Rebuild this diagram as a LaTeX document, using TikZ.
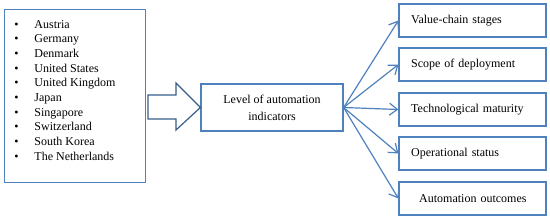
\documentclass[tikz,border=0pt]{standalone}
\usepackage{fontspec}
\setmainfont{Liberation Serif}
\usetikzlibrary{arrows.meta,positioning,calc}
\definecolor{boxblue}{RGB}{79,129,189}
\definecolor{darkblue}{RGB}{56,93,138}

\begin{document}
\begin{tikzpicture}[x=0.75pt,y=-0.75pt,every node/.style={font=\fontsize{9}{11}\selectfont}]
\useasboundingbox (0,0) rectangle (550,221);
\node[draw=boxblue, line width=0.9pt, minimum width=105.75pt, minimum height=129.75pt, inner sep=0pt, anchor=north west] (countries) at (4,9) {};
\node[anchor=north west, inner sep=0pt, align=left] (list) at (14,17.5) {%
  \begin{tabular}{@{}c@{\hspace{12pt}}l@{}}
  \textbullet & Austria\\
  \textbullet & Germany\\
  \textbullet & Denmark\\
  \textbullet & United States\\
  \textbullet & United Kingdom\\
  \textbullet & Japan\\
  \textbullet & Singapore\\
  \textbullet & Switzerland\\
  \textbullet & South Korea\\
  \textbullet & The Netherlands
  \end{tabular}};
\node[draw=boxblue, line width=0.9pt, minimum width=106.5pt, minimum height=35.25pt, align=center, inner sep=0pt] (level) at (272,107.5) {Level of automation\\[2pt]indicators};
\draw[darkblue, line width=0.9pt, line join=miter] (148,95) -- (176,95) -- (176,83) -- (level.west) -- (176,130) -- (176,119) -- (148,119) -- cycle;
\foreach \y/\name/\txt in {20.5/vcs/Value-chain stages,64.5/scope/Scope of deployment,109.5/tech/Technological maturity,153.5/ops/Operational status,198.5/outc/\hspace*{6pt}Automation outcomes}
{
  \node[draw=boxblue, line width=0.9pt, minimum width=110.25pt, minimum height=24.75pt, text width=92pt, inner xsep=8pt, align=left] (\name) at (472.5,\y) {\txt\\[3pt]};
  \draw[boxblue, line width=0.9pt, -{Straight Barb[length=6pt,width=9pt]}] (level.east) -- (\name.west);
}
\end{tikzpicture}
\end{document}
